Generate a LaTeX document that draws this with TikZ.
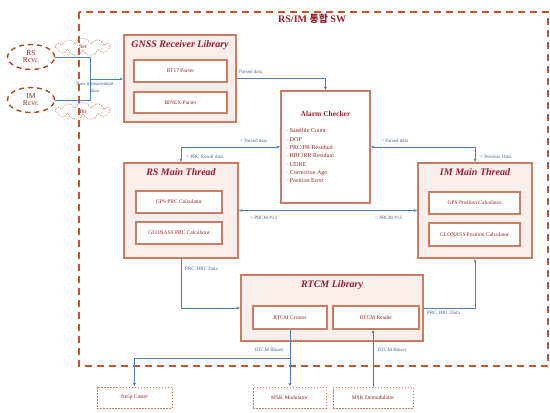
\documentclass[tikz,border=0pt]{standalone}
\usepackage{fontspec}
\setmainfont{Liberation Serif}
\newfontfamily\kr{Noto Sans CJK KR}
\usetikzlibrary{arrows.meta,shapes.geometric,shapes.symbols}
\definecolor{bxborder}{RGB}{200,125,100}
\definecolor{bxfill}{RGB}{250,238,235}
\definecolor{ttl}{RGB}{150,30,45}
\definecolor{smtxt}{RGB}{140,40,40}
\definecolor{conblue}{RGB}{79,129,189}
\definecolor{lbl}{RGB}{70,100,140}
\definecolor{outerc}{RGB}{195,85,45}
\tikzset{
  mainbox/.style={draw=bxborder,fill=bxfill,line width=1.4pt,inner sep=0pt},
  innerbox/.style={draw=bxborder,fill=white,line width=1.1pt,inner sep=0pt,
    text=smtxt,font=\fontsize{5.5}{6.5}\selectfont},
  boxtitle/.style={text=ttl,font=\fontsize{10}{12}\selectfont\bfseries\itshape,inner sep=0pt},
  conn/.style={draw=conblue,line width=0.8pt},
  arr/.style={conn,-{Latex[length=3.5pt,width=3pt]}},
  darr/.style={conn,{Latex[length=3.5pt,width=3pt]}-{Latex[length=3.5pt,width=3pt]}},
  lab/.style={text=lbl,font=\fontsize{5}{6}\selectfont,inner sep=0pt,anchor=west},
  extbox/.style={draw=bxborder,line width=0.9pt,dash pattern=on 1.5pt off 1.5pt,
    inner sep=0pt,text=smtxt,font=\fontsize{5.5}{6.5}\selectfont},
  rcvr/.style={ellipse,draw=outerc!85!black,line width=1.4pt,dash pattern=on 5pt off 4pt,
    inner sep=0pt,text=smtxt,font=\fontsize{7.5}{8.5}\selectfont,align=center},
  smcloud/.style={cloud,cloud puffs=11,draw=bxborder,line width=0.6pt,
    dash pattern=on 1pt off 1pt,inner sep=0pt,text=smtxt,font=\fontsize{6}{7}\selectfont}
}
\begin{document}
\begin{tikzpicture}[x=1pt,y=-1pt]
\useasboundingbox (0,0) rectangle (550,413);
\fill[white] (0,0) rectangle (550,413);
% outer dashed frame
\draw[outerc,line width=2pt,dash pattern=on 7pt off 5pt] (79,12) rectangle (548,366);
\node[text=ttl,font=\fontsize{10}{12}\selectfont\bfseries,anchor=west,inner sep=0pt] (maintitle) at (278,19) {RS/IM {\kr 통합} SW};

% receivers
\node[smcloud,minimum width=55pt,minimum height=17pt] (sercl) at (83,47) {Ser};
\node[smcloud,minimum width=55pt,minimum height=17pt] (ihrcl) at (83,111) {Ihr};
\node[rcvr,minimum width=47pt,minimum height=25pt] (rsc) at (31,57) {RS\\[-1.5pt]Rcvr.};
\node[rcvr,minimum width=47pt,minimum height=25pt] (imc) at (31,100) {IM\\[-1.5pt]Rcvr.};

% GNSS receiver library
\node[mainbox,minimum width=112pt,minimum height=87pt] (gnss) at (180,78.5) {};
\node[boxtitle] (gnsst) at (180,45) {GNSS Receiver Library};
\node[innerbox,minimum width=93pt,minimum height=22pt] (rt17) at (180.5,71) {RT17 Parser};
\node[innerbox,minimum width=93pt,minimum height=21pt] (binex) at (180.5,102.5) {BINEX Parser};

% Alarm checker
\node[draw=bxborder,fill=white,line width=1.2pt,minimum width=89pt,minimum height=112pt,inner sep=0pt] (alarm) at (325.5,147) {};
\node[text=ttl,font=\fontsize{7.5}{9}\selectfont\bfseries,inner sep=0pt] (alarmt) at (325.5,114) {Alarm Checker};
\node[text=smtxt,font=\fontsize{6}{8.3}\selectfont,align=left,anchor=north west,inner sep=0pt] (alarml) at (286,128.5)
{: Satellite Count\\: DOP\\: PRC/PR Residual\\: RRC/RR Residual\\: UDRE\\: Correction Age\\: Position Error};

% RS main thread
\node[mainbox,minimum width=114pt,minimum height=95pt] (rs) at (181,210.5) {};
\node[boxtitle] (rst) at (181,172.5) {RS Main Thread};
\node[innerbox,minimum width=86pt,minimum height=22pt] (gpsprc) at (179,202) {GPS PRC Calculator};
\node[innerbox,minimum width=86pt,minimum height=22pt] (glprc) at (179,233) {GLONASS PRC Calculator};

% IM main thread
\node[mainbox,minimum width=114pt,minimum height=95pt] (im) at (475,210.5) {};
\node[boxtitle] (imt) at (475,172.5) {IM Main Thread};
\node[innerbox,minimum width=91pt,minimum height=22pt] (gpspos) at (474.5,203) {GPS Position Calculator};
\node[innerbox,minimum width=91pt,minimum height=23pt] (glpos) at (474.5,234.5) {GLONASS Position Calculator};

% RTCM library
\node[mainbox,minimum width=182pt,minimum height=66pt] (rtcm) at (332,308) {};
\node[boxtitle] (rtcmt) at (332,285) {RTCM Library};
\node[innerbox,minimum width=74pt,minimum height=23pt] (creator) at (290,317.5) {RTCM Creator};
\node[innerbox,minimum width=86pt,minimum height=23pt] (reader) at (376,317.5) {RTCM Reader};

% external boxes
\node[extbox,minimum width=75pt,minimum height=21pt] (ntrip) at (134.5,397.5) {Ntrip Caster};
\node[extbox,minimum width=73pt,minimum height=21pt] (mskmod) at (289.5,397.5) {MSK Modulator};
\node[extbox,minimum width=80pt,minimum height=21pt] (mskdem) at (373,397.5) {MSK Demodulator};

% connectors
\coordinate (jr) at (90,57);
\coordinate (jm) at (90,79);
\draw[conn] (rsc.east) -- (jr) |- (imc.east);
\draw[arr] (jm) -- (jm -| gnss.west);
\node[text=lbl,font=\fontsize{5}{7}\selectfont,align=center,inner sep=0pt] (rawl) at (95,87) {Raw measurement\\data};

\draw[arr] (gnss.east) -| (alarm.north);
\node[lab] (pd1) at (239,72) {Parsed data};

\draw[darr] (alarm.west) -| (rs.north);
\node[lab] (pd2) at (240,141) {< Parsed data};
\node[lab] (prcr) at (186,157) {> PRC Result data};

\draw[darr] (alarm.east) -| (im.north);
\node[lab] (pd3) at (381,141) {< Parsed data};
\node[lab] (posd) at (480,157) {< Position Data};

\draw[darr] (rs.east) -- (im.west);
\node[lab] (prcm1) at (250,218) {> PRCM \#13};
\node[lab] (prcm2) at (375,218) {< PRCM \#13};

\draw[arr] (rs.south) |- (rtcm.west);
\node[lab] (prrc1) at (185,269) {PRC, RRC Data};

\draw[arr] (rtcm.east) -| (im.south);
\node[lab] (prrc2) at (427,313) {PRC, RRC Data};

\coordinate (br) at (creator.south |- 0,358);
\draw[arr] (creator.south) -- (creator.south |- mskmod.north);
\draw[arr] (br) -| (ntrip.north);
\node[lab] (rb1) at (255,350) {RTCM Binary};

\draw[arr] (mskdem.north) -- (mskdem.north |- reader.south);
\node[lab] (rb2) at (378,350) {RTCM Binary};
\end{tikzpicture}
\end{document}
